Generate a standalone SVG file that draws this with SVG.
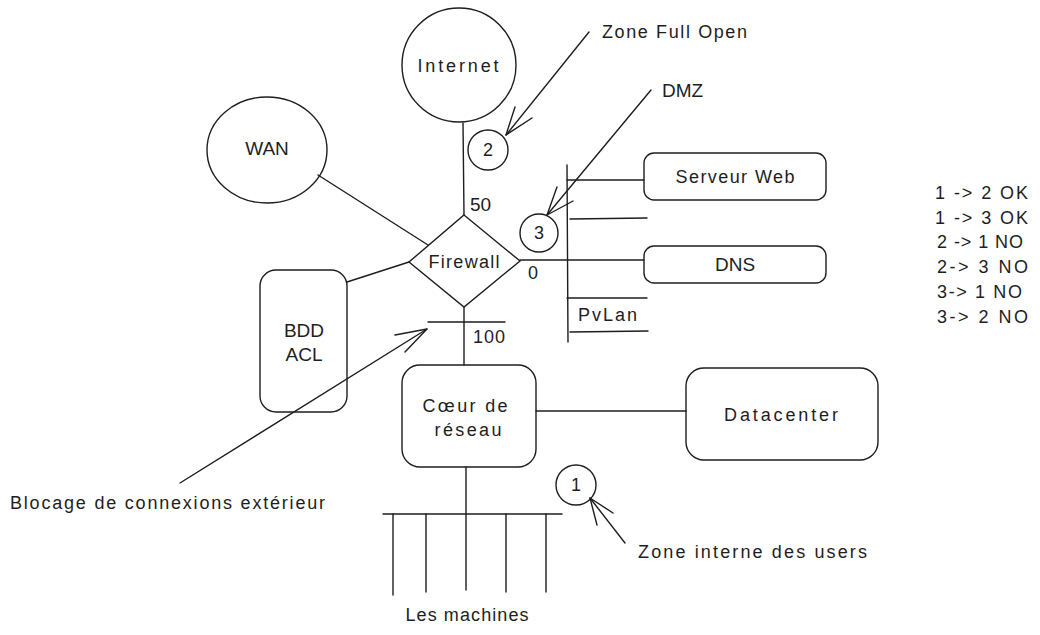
<svg xmlns="http://www.w3.org/2000/svg" width="1040" height="635" viewBox="0 0 1040 635">
<defs>
<style>
.s{fill:none;stroke:#1e1e1e;stroke-width:1.4;stroke-linecap:round;stroke-linejoin:round}
.n{fill:none;stroke:#1e1e1e;stroke-width:1.4}
.t{font-family:"Liberation Sans","DejaVu Sans",sans-serif;font-size:18px;fill:#1e1e1e}
.b{font-size:19px}
.c{text-anchor:middle;dominant-baseline:central}
.l{dominant-baseline:central}
</style>
</defs>
<rect width="1040" height="635" fill="#ffffff"/>
<g id="internet">
<circle class="n" cx="459" cy="65" r="57"/>
<text class="t c" x="458" y="66" textLength="81" lengthAdjust="spacing">Internet</text>
</g>
<g id="wan">
<ellipse class="n" cx="267" cy="150" rx="60" ry="53"/>
<text class="t b c" x="267" y="148">WAN</text>
</g>
<g id="firewall">
<polygon class="n" points="464,215 520,261 464,307 409,262"/>
<text class="t c" x="464" y="262" textLength="71" lengthAdjust="spacing">Firewall</text>
</g>
<g id="bdd">
<rect class="n" x="260" y="270" width="87" height="142" rx="16"/>
<text class="t b c" x="304" y="330">BDD</text>
<text class="t b c" x="304" y="354">ACL</text>
</g>
<g id="coeur">
<rect class="n" x="402" y="365" width="134" height="102" rx="18"/>
<text class="t c" x="465" y="406" textLength="85" lengthAdjust="spacing">Cœur de</text>
<text class="t c" x="468" y="430" textLength="67" lengthAdjust="spacing">réseau</text>
</g>
<g id="datacenter">
<rect class="n" x="686" y="368" width="192" height="92" rx="18"/>
<text class="t c" x="781" y="415" textLength="114" lengthAdjust="spacing">Datacenter</text>
</g>
<g id="serveur-web">
<rect class="n" x="644" y="153" width="182" height="47" rx="10"/>
<text class="t c" x="735" y="177" textLength="119" lengthAdjust="spacing">Serveur Web</text>
</g>
<g id="dns">
<rect class="n" x="644" y="246" width="182" height="37" rx="10"/>
<text class="t b c" x="735" y="264">DNS</text>
</g>
<g id="zone2">
<circle class="n" cx="488" cy="150" r="20"/>
<text class="t c" x="488" y="150">2</text>
</g>
<g id="zone3">
<circle class="n" cx="539" cy="233" r="19"/>
<text class="t c" x="539" y="233">3</text>
</g>
<g id="zone1">
<circle class="n" cx="576" cy="485" r="20"/>
<text class="t c" x="576" y="485">1</text>
</g>
<g id="connectors">
<line class="s" x1="463" y1="123" x2="464" y2="215"/>
<line class="s" x1="318" y1="175" x2="428" y2="245"/>
<line class="s" x1="347" y1="282" x2="409" y2="262"/>
<line class="s" x1="428" y1="322" x2="505" y2="322"/>
<line class="s" x1="464" y1="307" x2="464" y2="365"/>
<line class="s" x1="536" y1="411" x2="686" y2="411"/>
<line class="s" x1="466" y1="467" x2="466" y2="590"/>
<line class="s" x1="383" y1="514" x2="562" y2="514"/>
<line class="s" x1="393" y1="514" x2="393" y2="595"/>
<line class="s" x1="426" y1="514" x2="426" y2="592"/>
<line class="s" x1="506" y1="514" x2="506" y2="592"/>
<line class="s" x1="546" y1="514" x2="546" y2="592"/>
<line class="s" x1="567" y1="165" x2="568" y2="342"/>
<line class="s" x1="567" y1="180" x2="644" y2="180"/>
<line class="s" x1="570" y1="219" x2="647" y2="218"/>
<line class="s" x1="520" y1="260" x2="644" y2="260"/>
<line class="s" x1="567" y1="298" x2="647" y2="298"/>
<line class="s" x1="570" y1="332" x2="648" y2="331"/>
<line class="s" x1="589" y1="32" x2="506" y2="135"/>
<polyline class="s" points="515,107 506,135 532,118"/>
<line class="s" x1="651" y1="90" x2="547" y2="215"/>
<polyline class="s" points="557,187 547,215 573,201"/>
<line class="s" x1="180" y1="483" x2="427" y2="329"/>
<polyline class="s" points="395,335 427,329 405,352"/>
<line class="s" x1="625" y1="543" x2="590" y2="498"/>
<polyline class="s" points="597,525 590,498 613,513"/>
</g>
<g id="labels">
<text class="t l" x="602" y="32" textLength="145" lengthAdjust="spacing">Zone Full Open</text>
<text class="t b l" x="662" y="90">DMZ</text>
<text class="t b l" x="470" y="204">50</text>
<text class="t l" x="528" y="273">0</text>
<text class="t l" x="473" y="337" textLength="32" lengthAdjust="spacing">100</text>
<text class="t l" x="578" y="315" textLength="59" lengthAdjust="spacing">PvLan</text>
<text class="t l" x="10" y="503" textLength="315" lengthAdjust="spacing">Blocage de connexions extérieur</text>
<text class="t l" x="638" y="552" textLength="229" lengthAdjust="spacing">Zone interne des users</text>
<text class="t c" x="467" y="615" textLength="123" lengthAdjust="spacing">Les machines</text>
<text class="t l" x="935" y="193" textLength="93" lengthAdjust="spacing">1 -&gt; 2 OK</text>
<text class="t l" x="935" y="218" textLength="93" lengthAdjust="spacing">1 -&gt; 3 OK</text>
<text class="t l" x="937" y="242" textLength="86" lengthAdjust="spacing">2 -&gt; 1 NO</text>
<text class="t l" x="937" y="267" textLength="91" lengthAdjust="spacing">2-&gt; 3 NO</text>
<text class="t l" x="937" y="292" textLength="85" lengthAdjust="spacing">3-&gt; 1 NO</text>
<text class="t l" x="937" y="317" textLength="91" lengthAdjust="spacing">3-&gt; 2 NO</text>
</g>
</svg>
